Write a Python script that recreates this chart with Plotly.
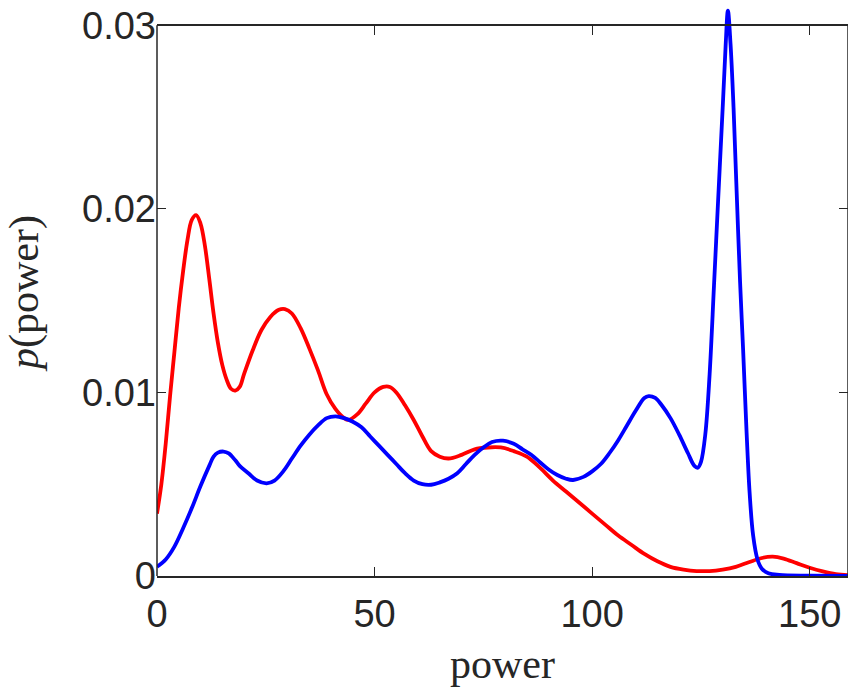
import plotly.graph_objects as go

# Estimated probability density of power for two operating cases
power_blue = [0, 2, 4, 6, 8, 10, 12, 13, 14, 15.3, 16.5, 18, 19, 21, 23, 25.2, 27, 29, 31,
              33, 35, 37, 39, 41, 43, 45, 47, 49, 51, 53, 55, 57, 59, 61, 63, 65, 67, 69,
              71, 73, 75, 77, 79.5, 82, 84, 86, 88, 90, 92, 94, 95.6, 98, 100, 102, 104,
              106, 108, 110, 112, 113, 114.5, 116, 118, 120, 122, 123.5, 124.3, 125, 126,
              127, 128, 129, 130, 130.7, 131.2, 131.8, 132.5, 133.2, 134, 134.7, 135.5,
              136.2, 137, 138, 139, 140.5, 143, 150, 159]
density_blue = [0.0005, 0.0009, 0.0016, 0.0026, 0.0037, 0.0049, 0.0060, 0.0065, 0.00672,
                0.00678, 0.00668, 0.0063, 0.0060, 0.0056, 0.0052, 0.00505, 0.0052, 0.0057,
                0.0064, 0.0071, 0.0077, 0.0082, 0.0086, 0.0087, 0.0086, 0.0084, 0.0081,
                0.0076, 0.0071, 0.0066, 0.0061, 0.0056, 0.0052, 0.0050, 0.00497, 0.0051,
                0.0053, 0.0056, 0.0061, 0.0066, 0.0070, 0.0073, 0.00737, 0.0072, 0.0069,
                0.0066, 0.0062, 0.0058, 0.0055, 0.0053, 0.00523, 0.0054, 0.0057, 0.0061,
                0.0067, 0.0074, 0.0082, 0.0090, 0.0097, 0.0098, 0.0097, 0.0093, 0.0086,
                0.0077, 0.0067, 0.0060, 0.0059, 0.0062, 0.0077, 0.0110, 0.0158, 0.0207,
                0.0255, 0.0290, 0.0308, 0.0290, 0.0255, 0.0210, 0.0160, 0.0123, 0.0078,
                0.0045, 0.0022, 0.0009, 0.0004, 0.00015, 0.00006, 0.00002, 0.0]

power_red = [0, 1, 2, 3, 4, 5, 6, 7, 8, 9, 10, 11, 12, 13, 14, 15, 16, 17, 18, 19, 20, 22,
             24, 26, 28, 29.4, 31, 33, 35, 37, 39, 41, 43, 44, 46, 48, 50, 52, 53.5, 55, 57,
             59, 61, 63, 65, 67, 70, 73, 76, 79, 82, 85, 88, 91, 94, 97, 100, 103, 106, 109,
             112, 115, 118, 121, 124, 127, 130, 133, 136, 139, 141.5, 144, 147, 150, 153,
             156, 159]
density_red = [0.0034, 0.0050, 0.0072, 0.0098, 0.0122, 0.0146, 0.0166, 0.0183, 0.0194,
               0.01966, 0.0192, 0.0180, 0.0162, 0.0143, 0.0127, 0.0115, 0.0107, 0.0102,
               0.0101, 0.0103, 0.0110, 0.0123, 0.0134, 0.0141, 0.0145, 0.01454, 0.0143,
               0.0135, 0.0124, 0.0112, 0.0099, 0.0091, 0.0086, 0.0085, 0.0088, 0.0094,
               0.0100, 0.0103, 0.0103, 0.0100, 0.0093, 0.0085, 0.0076, 0.0068, 0.0065,
               0.0064, 0.0066, 0.0069, 0.0070, 0.0070, 0.0068, 0.0065, 0.0059, 0.0052,
               0.0046, 0.0040, 0.0034, 0.0028, 0.0022, 0.0017, 0.0012, 0.0008, 0.0005,
               0.00035, 0.00027, 0.00027, 0.00035, 0.0005, 0.00075, 0.00098, 0.00105,
               0.00095, 0.0007, 0.00045, 0.00025, 0.0001, 0.00004]

x_ticks = [0, 50, 100, 150]
y_ticks = [0, 0.01, 0.02, 0.03]
y_tick_text = ["0", "0.01", "0.02", "0.03"]

x_max = 158.8
y_box_top = 0.03       # top of the axes box
y_view_top = 0.03094   # a little headroom so the tallest peak can rise past the box

axis_color = "#262626"

fig = go.Figure()
fig.add_trace(go.Scatter(x=power_red, y=density_red, mode="lines",
                         line=dict(color="#ff0000", width=3.8, shape="spline", smoothing=1.0),
                         showlegend=False))
fig.add_trace(go.Scatter(x=power_blue, y=density_blue, mode="lines",
                         line=dict(color="#0000ff", width=3.8, shape="spline", smoothing=1.0),
                         showlegend=False))
# empty trace so the secondary (box-edge) axes get drawn
fig.add_trace(go.Scatter(x=[None], y=[None], xaxis="x2", yaxis="y2", mode="lines",
                         showlegend=False, hoverinfo="skip"))

tick_font = dict(family="Liberation Sans, Arial, sans-serif", size=38, color=axis_color)
label_font = dict(family="Liberation Serif, Times New Roman, serif", size=42, color=axis_color)

common_tick = dict(ticks="inside", ticklen=9, tickwidth=1.3, tickcolor=axis_color,
                   showgrid=False, zeroline=False)

fig.update_layout(
    width=848, height=691,
    margin=dict(l=157, r=0, t=8, b=115),
    paper_bgcolor="white", plot_bgcolor="white",
    xaxis=dict(range=[0, x_max], tickvals=x_ticks, showline=True, linecolor=axis_color,
               linewidth=1.5, mirror=False, tickfont=tick_font, ticklabelstandoff=4,
               title=dict(text="power", font=label_font, standoff=14), **common_tick),
    # top edge of the box, placed at y = 0.03
    xaxis2=dict(range=[0, x_max], tickvals=x_ticks, overlaying="x", anchor="free",
                position=y_box_top / y_view_top, side="top", showline=True,
                linecolor=axis_color, linewidth=1.5, showticklabels=False, **common_tick),
    yaxis=dict(range=[0, y_view_top], tickvals=y_ticks, ticktext=y_tick_text,
               showline=False, mirror=False, tickfont=tick_font,
               title=dict(text="<i>p</i>(power)", font=label_font, standoff=30),
               **common_tick),
    # ticks on the right edge of the box
    yaxis2=dict(range=[0, y_view_top], tickvals=y_ticks, overlaying="y", side="right",
                anchor="x2", showline=False, showticklabels=False, **common_tick),
)

# left and right edges of the box, from 0 up to 0.03
for xd in (0, 1):
    fig.add_shape(type="line", xref="x domain", yref="y", x0=xd, x1=xd,
                  y0=0, y1=y_box_top, line=dict(color=axis_color, width=1.5))

fig.write_html("out.html")
